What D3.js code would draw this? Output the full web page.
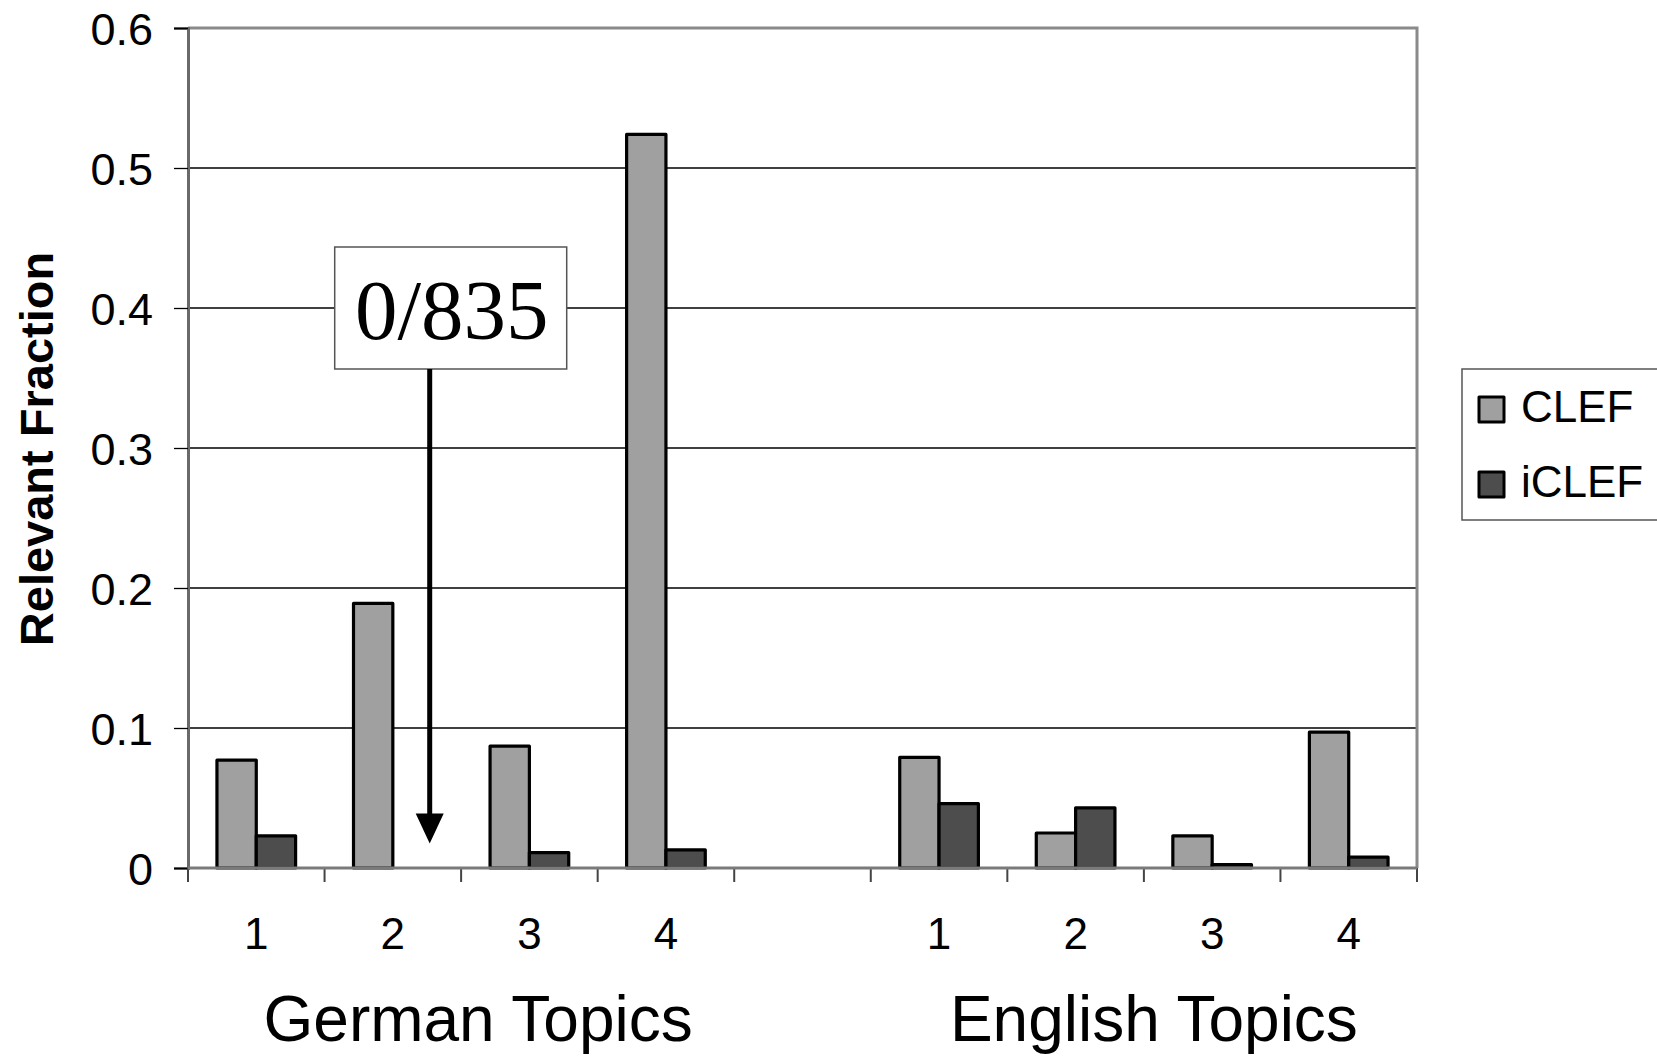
<!DOCTYPE html>
<html>
<head>
<meta charset="utf-8">
<script src="https://cdn.jsdelivr.net/npm/d3@7"></script>
<style>
  html, body { margin: 0; padding: 0; background: #fff; }
  svg { display: block; }
</style>
</head>
<body>
<svg id="chart" width="1657" height="1056"></svg>
<script>
const categories = ["G1", "G2", "G3", "G4", "gap", "E1", "E2", "E3", "E4"];
const tickLabels = ["1", "2", "3", "4", "", "1", "2", "3", "4"];
const seriesNames = ["CLEF", "iCLEF"];
const clefValues  = [0.077, 0.189, 0.087, 0.524, null, 0.079, 0.025, 0.023, 0.097];
const iclefValues = [0.023, 0,     0.011, 0.013, null, 0.046, 0.043, 0.0025, 0.0077];
const yTicks = [0, 0.1, 0.2, 0.3, 0.4, 0.5, 0.6];
const yTickLabels = ["0", "0.1", "0.2", "0.3", "0.4", "0.5", "0.6"];
const groupLabels = ["German Topics", "English Topics"];
const annotationText = "0/835";
const yTitle = "Relevant Fraction";

const colors = { CLEF: "#a0a0a0", iCLEF: "#4d4d4d" };

const svg = d3.select("#chart");
const m = { left: 188, top: 28, right: 1417, bottom: 868 };

const x = d3.scaleBand().domain(categories).range([m.left, m.right]).paddingInner(0).paddingOuter(0);
const y = d3.scaleLinear().domain([0, 0.6]).range([m.bottom, m.top]);
const bw = x.bandwidth();
const barW = bw * 0.288;
const groupOffset = bw * 0.212;
const xs = d3.scaleBand().domain(seriesNames).range([0, barW * 2]).padding(0);

// gridlines
svg.append("g").selectAll("line")
  .data(yTicks.filter(t => t > 0 && t < 0.6))
  .join("line")
  .attr("x1", m.left).attr("x2", m.right)
  .attr("y1", d => y(d)).attr("y2", d => y(d))
  .attr("stroke", "#000").attr("stroke-width", 1.3);

// plot border top & right
svg.append("path")
  .attr("d", `M${m.left},${m.top}H${m.right}V${m.bottom}`)
  .attr("fill", "none").attr("stroke", "#8a8a8a").attr("stroke-width", 3);

// y axis
const yAxis = d3.axisLeft(y).tickValues(yTicks).tickFormat((d, i) => yTickLabels[i]).tickSize(14).tickPadding(21);
const gy = svg.append("g").attr("transform", `translate(${m.left},0)`).call(yAxis);
gy.select(".domain").attr("stroke", "#6a6a6a").attr("stroke-width", 3);
gy.selectAll(".tick line").attr("stroke", "#000").attr("stroke-width", 1.3);
gy.selectAll(".tick text")
  .attr("font-family", "Liberation Sans, Arial, sans-serif")
  .attr("font-size", 45).attr("fill", "#000").attr("dy", "0.36em");

// annotation geometry
const annX = x("G2") + bw * 0.77;
const boxW = 232, boxH = 122;
const boxLeft = annX - 95;
const boxTop = y(0.4) - boxH / 2;

// bars
const data = categories.map((c, i) => ({ cat: c, CLEF: clefValues[i], iCLEF: iclefValues[i] }));
const groups = svg.append("g").selectAll("g")
  .data(data).join("g")
  .attr("transform", d => `translate(${x(d.cat) + groupOffset},0)`);
groups.selectAll("rect")
  .data(d => seriesNames.map(s => ({ s, v: d[s] })).filter(e => e.v))
  .join("rect")
  .attr("x", d => xs(d.s))
  .attr("width", xs.bandwidth())
  .attr("y", d => y(d.v))
  .attr("height", d => y(0) - y(d.v))
  .attr("fill", d => colors[d.s])
  .attr("stroke", "#000").attr("stroke-width", 3.2).attr("stroke-linejoin", "round");

// x axis
const xAxis = d3.axisBottom(x).tickFormat((d, i) => tickLabels[i]).tickSize(0).tickPadding(50);
const gx = svg.append("g").attr("transform", `translate(0,${m.bottom})`).call(xAxis);
gx.select(".domain").remove();
gx.selectAll(".tick text")
  .attr("font-family", "Liberation Sans, Arial, sans-serif")
  .attr("font-size", 44).attr("fill", "#000");
// category boundary ticks
const bounds = categories.map(c => x(c)).concat([m.right]);
svg.append("g").selectAll("line").data(bounds).join("line")
  .attr("x1", d => d).attr("x2", d => d)
  .attr("y1", m.bottom).attr("y2", m.bottom + 14)
  .attr("stroke", "#444").attr("stroke-width", 2);
svg.append("line")
  .attr("x1", m.left).attr("x2", m.right)
  .attr("y1", m.bottom).attr("y2", m.bottom)
  .attr("stroke", "#7a7a7a").attr("stroke-width", 3);

// group labels
const gCenter1 = (x("G1") + x("G4") + bw) / 2 + 17;
const gCenter2 = (x("E1") + x("E4") + bw) / 2 + 10;
svg.append("g").selectAll("text")
  .data([[groupLabels[0], gCenter1], [groupLabels[1], gCenter2]])
  .join("text")
  .attr("x", d => d[1]).attr("y", 1041)
  .attr("text-anchor", "middle")
  .attr("font-family", "Liberation Sans, Arial, sans-serif")
  .attr("font-size", 64).attr("fill", "#000")
  .text(d => d[0]);

// y title
svg.append("text")
  .attr("transform", `translate(53,${(251 + 647) / 2}) rotate(-90)`)
  .attr("text-anchor", "middle")
  .attr("font-family", "Liberation Sans, Arial, sans-serif")
  .attr("font-weight", "bold")
  .attr("font-size", 47).attr("fill", "#000")
  .text(yTitle);

// annotation box
svg.append("rect")
  .attr("x", boxLeft).attr("y", boxTop).attr("width", boxW).attr("height", boxH)
  .attr("fill", "#fff").attr("stroke", "#555").attr("stroke-width", 1.5);
svg.append("text")
  .attr("x", boxLeft + boxW / 2 + 1).attr("y", boxTop + 92)
  .attr("text-anchor", "middle")
  .attr("font-family", "Liberation Serif, Times New Roman, serif")
  .attr("font-size", 85).attr("fill", "#000")
  .text(annotationText);
// arrow
const tipY = y(0.0175);
svg.append("line")
  .attr("x1", annX).attr("x2", annX)
  .attr("y1", boxTop + boxH).attr("y2", tipY - 28)
  .attr("stroke", "#000").attr("stroke-width", 5);
svg.append("path")
  .attr("d", `M${annX - 14},${tipY - 30}L${annX + 14},${tipY - 30}L${annX},${tipY}Z`)
  .attr("fill", "#000");

// legend
const lg = svg.append("g");
lg.append("rect")
  .attr("x", 1462).attr("y", 369).attr("width", 210).attr("height", 151)
  .attr("fill", "#fff").attr("stroke", "#555").attr("stroke-width", 1.5);
const li = lg.selectAll("g.item").data(seriesNames).join("g")
  .attr("class", "item")
  .attr("transform", (d, i) => `translate(1479,${397 + i * 75})`);
li.append("rect")
  .attr("width", 25).attr("height", 25)
  .attr("fill", d => colors[d])
  .attr("stroke", "#000").attr("stroke-width", 3).attr("stroke-linejoin", "round");
li.append("text")
  .attr("x", 42).attr("y", 25)
  .attr("font-family", "Liberation Sans, Arial, sans-serif")
  .attr("font-size", 44).attr("fill", "#000")
  .text(d => d);
</script>
</body>
</html>
